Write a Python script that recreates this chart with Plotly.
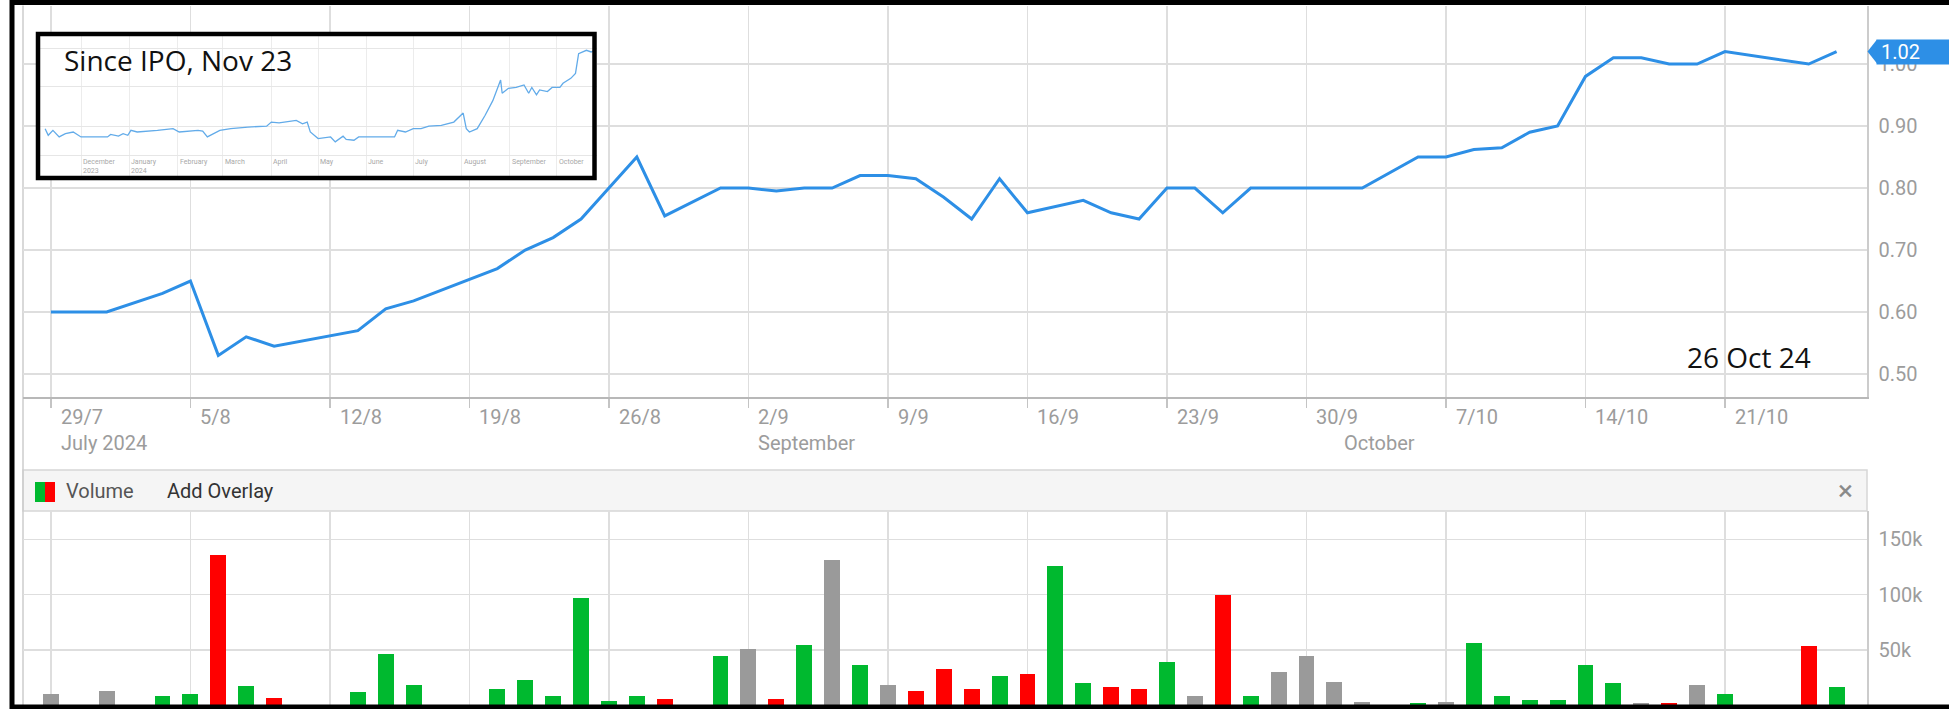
import pandas as pd
import plotly.graph_objects as go

W, H = 1949, 709

# ---------------- data ----------------
dates = [d.strftime("%Y-%m-%d") for d in pd.bdate_range("2024-07-29", "2024-10-25")]

price = [0.60, None, 0.60, None, 0.63,
         0.65, 0.53, 0.56, 0.545, None,
         None, 0.57, 0.605, 0.618, None,
         None, 0.67, 0.70, 0.72, 0.75,
         0.80, 0.85, 0.755, None, 0.80,
         0.80, 0.795, 0.80, 0.80, 0.82,
         0.82, 0.815, 0.785, 0.75, 0.815,
         0.76, 0.77, 0.78, 0.76, 0.75,
         0.80, 0.80, 0.76, 0.80, 0.80,
         0.80, 0.80, 0.80, None, 0.85,
         0.85, 0.862, 0.865, 0.89, 0.90,
         0.98, 1.01, 1.01, 1.00, 1.00,
         1.02, None, None, 1.00, 1.02]

volume = [10000, None, 13000, None, 8000,
          10000, 136000, 17000, 6500, None,
          None, 11500, 46000, 18000, None,
          None, 14500, 22500, 8000, 96500,
          3500, 8000, 5000, None, 44000,
          50500, 5000, 54000, 131000, 36000,
          18000, 13000, 32500, 14500, 26000,
          28000, 126000, 19500, 16500, 14500,
          39000, 8000, 99500, 8000, 29500,
          44500, 21000, 3000, None, 2000,
          3000, 56000, 8000, 4500, 4500,
          36000, 19500, 2000, 2000, 18000,
          10000, None, None, 53500, 16500]

tick_dates = ["2024-07-29", "2024-08-05", "2024-08-12", "2024-08-19", "2024-08-26",
              "2024-09-02", "2024-09-09", "2024-09-16", "2024-09-23", "2024-09-30",
              "2024-10-07", "2024-10-14", "2024-10-21"]
tick_labels = ["29/7", "5/8", "12/8", "19/8", "26/8", "2/9", "9/9", "16/9", "23/9",
               "30/9", "7/10", "14/10", "21/10"]
month_dates = ["2024-07-29", "2024-09-02", "2024-10-01"]
month_labels = ["July 2024", "September", "October"]

price_ticks = [0.50, 0.60, 0.70, 0.80, 0.90, 1.00]
vol_ticks = [50000, 100000, 150000]
vol_tick_labels = ["50k", "100k", "150k"]

# inset "since IPO" series
mini_dates = ["2023-11-08", "2023-11-10", "2023-11-13", "2023-11-17", "2023-11-21", "2023-11-26",
              "2023-12-01", "2023-12-18", "2023-12-20", "2023-12-25", "2023-12-28", "2023-12-31",
              "2024-01-02", "2024-01-06", "2024-01-19", "2024-01-29", "2024-02-02", "2024-02-14",
              "2024-02-17", "2024-02-20", "2024-02-28", "2024-03-06", "2024-03-17", "2024-03-29",
              "2024-04-01", "2024-04-06", "2024-04-17", "2024-04-21", "2024-04-24", "2024-04-26",
              "2024-05-01", "2024-05-09", "2024-05-12", "2024-05-17", "2024-05-19", "2024-05-24",
              "2024-05-27", "2024-06-11", "2024-06-19", "2024-06-21", "2024-06-26", "2024-07-01",
              "2024-07-06", "2024-07-11", "2024-07-19", "2024-07-27", "2024-08-02", "2024-08-04",
              "2024-08-06", "2024-08-11", "2024-08-16", "2024-08-21", "2024-08-26", "2024-08-27",
              "2024-08-31", "2024-09-05", "2024-09-10", "2024-09-13", "2024-09-15", "2024-09-18",
              "2024-09-20", "2024-09-25", "2024-09-28", "2024-10-03", "2024-10-05", "2024-10-10",
              "2024-10-13", "2024-10-15", "2024-10-18", "2024-10-20", "2024-10-23", "2024-10-25"]
mini_price = [0.55, 0.51, 0.54, 0.50, 0.52, 0.53,
              0.50, 0.50, 0.515, 0.505, 0.52, 0.51,
              0.54, 0.53, 0.54, 0.55, 0.53, 0.54,
              0.535, 0.50, 0.54, 0.55, 0.56, 0.565,
              0.59, 0.585, 0.60, 0.58, 0.59, 0.53,
              0.49, 0.50, 0.47, 0.505, 0.485, 0.48,
              0.50, 0.50, 0.50, 0.54, 0.53, 0.55,
              0.55, 0.565, 0.57, 0.59, 0.645, 0.55,
              0.53, 0.55, 0.63, 0.72, 0.845, 0.765,
              0.795, 0.80, 0.815, 0.765, 0.80, 0.755,
              0.785, 0.775, 0.80, 0.80, 0.825, 0.855,
              0.885, 1.005, 1.015, 1.025, 1.015, 1.025]
mini_month_dates = ["2023-12-01", "2024-01-01", "2024-02-01", "2024-03-01", "2024-04-01",
                    "2024-05-01", "2024-06-01", "2024-07-01", "2024-08-01", "2024-09-01",
                    "2024-10-01"]
mini_month_labels = ["December<br>2023", "January<br>2024", "February", "March", "April",
                     "May", "June", "July", "August", "September", "October"]
mini_grid = [0.39, 0.566, 0.803, 1.039]

# ---------------- style ----------------
BLUE = "#2d8fe6"
GREEN = "#00b92f"
RED = "#ff0000"
GRAY = "#9a9a9a"
GRID = "#dedede"
TICK = "#9c9c9c"
BORDER = "#cccccc"
FONT = "Roboto"


def px_x(p):
    return p / W


def px_y(p):
    return 1 - p / H


# bar colours from price direction
colors = []
prev = None
for p in price:
    if p is None:
        colors.append(GRAY)
        continue
    if prev is None or abs(p - prev) < 1e-9:
        colors.append(GRAY)
    elif p > prev:
        colors.append(GREEN)
    else:
        colors.append(RED)
    prev = p

main_dom_y = [px_y(397), px_y(5.5)]
main_range_y = [0.4629, 1.0944]

fig = go.Figure()
fig.add_trace(go.Scatter(x=dates, y=price, mode="lines", connectgaps=True,
                         line=dict(color=BLUE, width=3), xaxis="x", yaxis="y",
                         hoverinfo="skip"))
fig.add_trace(go.Bar(x=dates, y=volume, marker=dict(color=colors, line=dict(width=0)),
                     width=0.57, xaxis="x2", yaxis="y2", hoverinfo="skip"))
fig.add_trace(go.Scatter(x=mini_dates, y=mini_price, mode="lines",
                         line=dict(color="#62abe9", width=1.3), xaxis="x3", yaxis="y3",
                         hoverinfo="skip"))

xrange = [-1.0, 65.09]
fig.update_layout(
    width=W, height=H, autosize=False,
    margin=dict(l=0, r=0, t=0, b=0, pad=0),
    paper_bgcolor="white", plot_bgcolor="white",
    showlegend=False,
    font=dict(family=FONT, size=20, color=TICK),
    bargap=0,
    xaxis=dict(domain=[px_x(23), px_x(1867)], anchor="y", type="category",
               range=xrange, tickmode="array", tickvals=tick_dates, showticklabels=False,
               ticks="outside", ticklen=9, tickcolor="#c4c4c4", tickwidth=1.5,
               showgrid=True, gridcolor=GRID, gridwidth=1.5,
               showline=True, linecolor="#b8b8b8", linewidth=2, zeroline=False),
    yaxis=dict(domain=main_dom_y, anchor="x", range=main_range_y, side="right",
               tickmode="array", tickvals=price_ticks,
               ticktext=[f"{v:.2f}" for v in price_ticks],
               tickfont=dict(family=FONT, size=20, color=TICK), ticklabelstandoff=6,
               showgrid=True, gridcolor=GRID, gridwidth=1.5,
               showline=True, linecolor=BORDER, linewidth=1.5, zeroline=False),
    xaxis2=dict(domain=[px_x(23), px_x(1867)], anchor="y2", type="category",
                range=xrange, matches="x", tickmode="array", tickvals=tick_dates,
                showticklabels=False, ticks="", showgrid=True, gridcolor=GRID,
                gridwidth=1.5, showline=False, zeroline=False),
    yaxis2=dict(domain=[px_y(705), px_y(511)], anchor="x2", range=[0, 175700], side="right",
                tickmode="array", tickvals=vol_ticks, ticktext=vol_tick_labels,
                tickfont=dict(family=FONT, size=20, color=TICK), ticklabelstandoff=6,
                showgrid=True, gridcolor=GRID, gridwidth=1.5,
                showline=True, linecolor=BORDER, linewidth=1.5, zeroline=False),
    xaxis3=dict(domain=[px_x(36), px_x(597)], anchor="y3", type="date",
                range=["2023-11-02 03:36", "2024-10-26 19:00"],
                tickmode="array", tickvals=mini_month_dates, showticklabels=False,
                ticks="", showgrid=True, gridcolor="#ececec", gridwidth=1,
                showline=False, zeroline=False),
    yaxis3=dict(domain=[px_y(180), px_y(32)], anchor="x3", range=[0.239, 1.136],
                tickmode="array", tickvals=mini_grid, showticklabels=False, ticks="",
                showgrid=True, gridcolor="#e6e6e6", gridwidth=1, showline=False,
                zeroline=False),
)

shapes = []
# volume header bar
shapes.append(dict(type="rect", xref="paper", yref="paper", layer="below",
                   x0=px_x(23), x1=px_x(1867), y0=px_y(511), y1=px_y(470),
                   fillcolor="#f5f5f5", line=dict(color="#d6d6d6", width=1.5)))
# header icon
shapes.append(dict(type="rect", xref="paper", yref="paper", layer="above",
                   x0=px_x(35), x1=px_x(45), y0=px_y(502), y1=px_y(482),
                   fillcolor=GREEN, line=dict(width=0)))
shapes.append(dict(type="rect", xref="paper", yref="paper", layer="above",
                   x0=px_x(45), x1=px_x(55), y0=px_y(502), y1=px_y(482),
                   fillcolor=RED, line=dict(width=0)))
# left panel border
shapes.append(dict(type="line", xref="paper", yref="paper", layer="below",
                   x0=px_x(23), x1=px_x(23), y0=px_y(705), y1=px_y(5.5),
                   line=dict(color=BORDER, width=1.5)))
# inset opaque background (drawn inside the inset subplot, under its grid)
shapes.append(dict(type="rect", xref="x3", yref="y3", layer="below",
                   x0="2023-09-01", x1="2025-01-31", y0=-2, y1=3,
                   fillcolor="white", line=dict(width=0)))
# inset frame
shapes.append(dict(type="rect", xref="paper", yref="paper", layer="above",
                   x0=px_x(38), x1=px_x(594.5), y0=px_y(178), y1=px_y(34),
                   fillcolor="rgba(0,0,0,0)", line=dict(color="black", width=4.5)))
# outer frame
shapes.append(dict(type="rect", xref="paper", yref="paper", layer="above",
                   x0=px_x(12), x1=1.02, y0=px_y(707), y1=px_y(2.5),
                   fillcolor="rgba(0,0,0,0)", line=dict(color="black", width=5)))

# last price tag arrow
last = [p for p in price if p is not None][-1]
yp = main_dom_y[0] + (last - main_range_y[0]) / (main_range_y[1] - main_range_y[0]) * (main_dom_y[1] - main_dom_y[0])
dy = 12 / H
shapes.append(dict(type="path", xref="paper", yref="paper", layer="above",
                   path=f"M {px_x(1867.5)},{yp} L {px_x(1877)},{yp + dy} L {px_x(1877)},{yp - dy} Z",
                   fillcolor=BLUE, line=dict(width=0)))
fig.update_layout(shapes=shapes)

ann = []
for d, t in zip(tick_dates, tick_labels):
    ann.append(dict(x=d, xref="x", y=px_y(417), yref="paper", text=t, showarrow=False,
                    xanchor="left", yanchor="middle", xshift=8,
                    font=dict(family=FONT, size=20, color=TICK)))
for d, t in zip(month_dates, month_labels):
    ann.append(dict(x=d, xref="x", y=px_y(443), yref="paper", text=t, showarrow=False,
                    xanchor="left", yanchor="middle", xshift=8,
                    font=dict(family=FONT, size=20, color=TICK)))
ann.append(dict(x=px_x(64), y=px_y(491), xref="paper", yref="paper", text="Volume",
                showarrow=False, xanchor="left", yanchor="middle",
                font=dict(family=FONT, size=20, color="#555555")))
ann.append(dict(x=px_x(165), y=px_y(491), xref="paper", yref="paper", text="Add Overlay",
                showarrow=False, xanchor="left", yanchor="middle",
                font=dict(family=FONT, size=20, color="#333333")))
ann.append(dict(x=px_x(1845), y=px_y(490), xref="paper", yref="paper", text="×",
                showarrow=False, xanchor="center", yanchor="middle",
                font=dict(family=FONT, size=28, color="#8a8a8a")))
ann.append(dict(x=px_x(1685), y=px_y(357), xref="paper", yref="paper", text="26 Oct 24",
                showarrow=False, xanchor="left", yanchor="middle",
                font=dict(family="Open Sans", size=28, color="#111111")))
ann.append(dict(x=px_x(62), y=px_y(60), xref="paper", yref="paper", text="Since IPO, Nov 23",
                showarrow=False, xanchor="left", yanchor="middle",
                font=dict(family="Open Sans", size=28, color="#111111")))
for d, t in zip(mini_month_dates, mini_month_labels):
    ann.append(dict(x=d, xref="x3", y=px_y(156), yref="paper", text=t, showarrow=False,
                    xanchor="left", yanchor="top", align="left",
                    font=dict(family=FONT, size=7, color="#a8a8a8")))
# last price tag
ann.append(dict(x=px_x(1876), y=last, xref="paper", yref="y", text=f"{last:.2f}",
                showarrow=False, xanchor="left", yanchor="middle", align="left",
                bgcolor=BLUE, borderpad=4, width=66, height=16,
                font=dict(family=FONT, size=20, color="white")))
fig.update_layout(annotations=ann)

fig.write_html("out.html", config={"displayModeBar": False, "staticPlot": True},
               post_script="document.body.style.margin='0px';document.body.style.overflow='hidden';")
